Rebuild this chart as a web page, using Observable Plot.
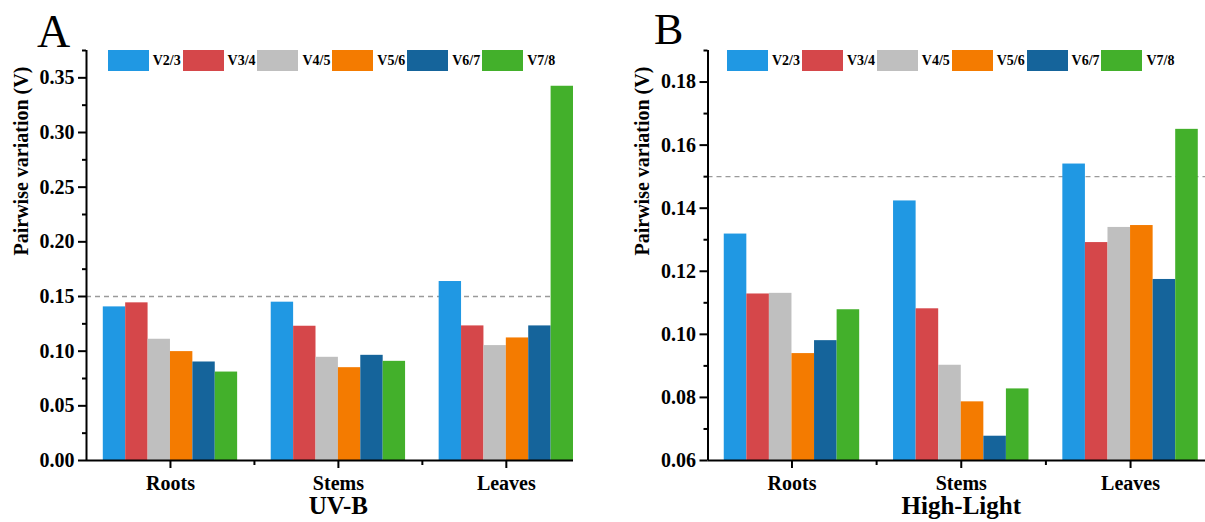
<!DOCTYPE html>
<html>
<head>
<meta charset="utf-8">
<script src="https://cdn.jsdelivr.net/npm/d3@7"></script>
<script src="https://cdn.jsdelivr.net/npm/@observablehq/plot@0.6"></script>
<style>
  body { margin: 0; background: white; }
  #wrap { position: relative; width: 1205px; height: 522px; overflow: hidden; font-family: "Liberation Serif", "Times New Roman", serif; }
  .panel { position: absolute; top: 0; }
  .panel text { font-family: "Liberation Serif", "Times New Roman", serif; }
  .letter { position: absolute; line-height: 1; font-family: "Liberation Serif", serif; color: #000; }
  .legend { position: absolute; display: flex; }
  .legend .item { display: flex; align-items: center; width: 74.9px; height: 21px; }
  .legend .sw { width: 41px; height: 21px; flex: none; }
  .legend .lab { margin-left: 4px; font-weight: bold; font-size: 14px; color: #000; }
</style>
</head>
<body>
<div id="wrap"></div>
<script>
// ---- data ----
const categories = ["Roots", "Stems", "Leaves"];
const series = ["V2/3", "V3/4", "V4/5", "V5/6", "V6/7", "V7/8"];
const colors = ["#2098e3", "#d5474a", "#bfbfbf", "#f47b00", "#15649b", "#43b02b"];
// rows: Roots, Stems, Leaves ; columns: series order
const uvbValues = [
  [0.1405, 0.1442, 0.1109, 0.0996, 0.0901, 0.0809],
  [0.1448, 0.1228, 0.0944, 0.0849, 0.0962, 0.0907],
  [0.1637, 0.1231, 0.1051, 0.1121, 0.1231, 0.3423]
];
const highLightValues = [
  [0.1318, 0.1128, 0.1130, 0.0939, 0.0980, 0.1078],
  [0.1423, 0.1081, 0.0902, 0.0786, 0.0677, 0.0827],
  [0.1540, 0.1291, 0.1339, 0.1345, 0.1174, 0.1650]
];
const uvbMajorTicks = [0, 0.05, 0.10, 0.15, 0.20, 0.25, 0.30, 0.35];
const uvbMinorTicks = [0.025, 0.075, 0.125, 0.175, 0.225, 0.275, 0.325, 0.375];
const hlMajorTicks = [0.06, 0.08, 0.10, 0.12, 0.14, 0.16, 0.18];
const hlMinorTicks = [0.07, 0.09, 0.11, 0.13, 0.15, 0.17, 0.19];
const threshold = 0.15;
const yLabel = "Pairwise variation (V)";
const titles = ["UV-B", "High-Light"];
const panelLetters = ["A", "B"];

// ---- drawing ----
const STEP = 7.5; // group step in bar widths
const FONT = "'Liberation Serif', 'Times New Roman', serif";

function panel({values, yDomain, majors, minors, title, xDomain, width, marginLeft, marginRight}) {
  const rows = values.flatMap((vals, g) => vals.map((v, s) => ({
    cat: categories[g], series: series[s], x1: g * STEP + s, x2: g * STEP + s + 1, v
  })));
  const centers = categories.map((c, g) => g * STEP + series.length / 2);
  const seps = categories.slice(1).map((c, i) => i * STEP + series.length + (STEP - series.length) / 2);
  return Plot.plot({
    width, height: 522, marginLeft, marginRight, marginTop: 50, marginBottom: 62,
    x: {domain: xDomain, axis: null},
    y: {domain: yDomain, axis: null},
    color: {domain: series, range: colors},
    style: {fontFamily: FONT, fontWeight: "bold", background: "transparent", overflow: "visible", color: "#000"},
    marks: [
      Plot.ruleY([threshold], {stroke: "#9a9a9a", strokeDasharray: "5,4", strokeWidth: 1.4}),
      Plot.rectY(rows, {x1: "x1", x2: "x2", y1: () => yDomain[0], y2: "v", fill: "series"}),
      Plot.ruleX([xDomain[0]], {stroke: "#000", strokeWidth: 2}),
      Plot.ruleY([yDomain[0]], {stroke: "#000", strokeWidth: 2}),
      Plot.axisY({ticks: majors, tickSize: 8, tickPadding: 4, tickFormat: d3.format(".2f"), fontSize: 20, fontFamily: FONT, fontWeight: "bold", fontVariant: "normal", strokeWidth: 2, label: null}),
      Plot.axisY({ticks: minors, tickSize: 4, tickFormat: () => "", strokeWidth: 2, label: null}),
      Plot.axisX({ticks: centers, tickSize: 8, tickPadding: 7, tickFormat: d => categories[centers.indexOf(d)], fontSize: 20, fontFamily: FONT, fontWeight: "bold", strokeWidth: 2, label: null}),
      Plot.axisX({ticks: seps, tickSize: 5, tickFormat: () => "", strokeWidth: 2, label: null}),
      Plot.text([yLabel], {frameAnchor: "left", dx: -65, rotate: -90, fontSize: 20, fontFamily: FONT, fontWeight: "bold"}),
      Plot.text([title], {x: centers[1], frameAnchor: "bottom", dy: 53, fontSize: 25, fontFamily: FONT, fontWeight: "bold"})
    ]
  });
}

const wrap = document.getElementById("wrap");

const a = panel({values: uvbValues, yDomain: [0, 0.375], majors: uvbMajorTicks, minors: uvbMinorTicks,
  title: titles[0], xDomain: [-0.75, 21], width: 605, marginLeft: 86, marginRight: 32});
a.classList.add("panel"); a.style.left = "0px";
wrap.appendChild(a);

const b = panel({values: highLightValues, yDomain: [0.06, 0.19], majors: hlMajorTicks, minors: hlMinorTicks,
  title: titles[1], xDomain: [-0.72, 21.32], width: 600, marginLeft: 102.5, marginRight: 0});
b.classList.add("panel"); b.style.left = "605px";
wrap.appendChild(b);

function legend(left, top) {
  const div = document.createElement("div");
  div.className = "legend";
  div.style.left = left + "px";
  div.style.top = top + "px";
  series.forEach((s, i) => {
    const item = document.createElement("div");
    item.className = "item";
    const sw = document.createElement("div");
    sw.className = "sw";
    sw.style.background = colors[i];
    const lab = document.createElement("span");
    lab.className = "lab";
    lab.textContent = s;
    item.appendChild(sw); item.appendChild(lab);
    div.appendChild(item);
  });
  wrap.appendChild(div);
}
legend(107.7, 50);
legend(727, 50);

function letter(txt, left, top, size) {
  const d = document.createElement("div");
  d.className = "letter";
  d.style.left = left + "px";
  d.style.top = top + "px";
  d.style.fontSize = size + "px";
  d.textContent = txt;
  wrap.appendChild(d);
}
letter(panelLetters[0], 37, 8.5, 46);
letter(panelLetters[1], 654, 8, 44);
</script>
</body>
</html>
